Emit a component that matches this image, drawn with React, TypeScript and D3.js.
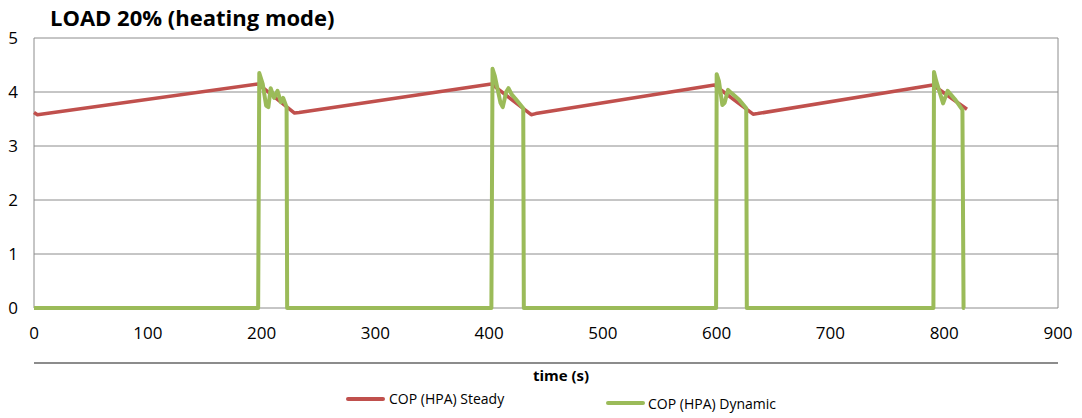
import React from "react";
import { scaleLinear, line } from "d3";

const title = "LOAD 20% (heating mode)";
const xTicks = [0, 100, 200, 300, 400, 500, 600, 700, 800, 900];
const yTicks = [0, 1, 2, 3, 4, 5];

// COP (HPA) Steady
const steadyT = [0, 3, 197, 229, 233, 402, 437, 441, 598, 632, 636, 790, 820];
const steadyV = [3.62, 3.58, 4.15, 3.61, 3.62, 4.15, 3.58, 3.6, 4.13, 3.59, 3.6, 4.13, 3.68];

// COP (HPA) Dynamic
const dynT = [
  0, 197, 198, 201, 204, 206, 208, 211, 214, 217, 219, 222, 222.5,
  402, 403, 405, 410, 412, 415, 417, 420, 423, 430, 430.5,
  599.5, 600, 602, 605, 607, 610, 613, 620, 626, 626.5,
  790.5, 791, 793, 799, 803, 810, 816, 817, 818,
];
const dynV = [
  0, 0, 4.35, 4.15, 3.75, 3.72, 4.07, 3.89, 4.02, 3.81, 3.89, 3.72, 0,
  0, 4.43, 4.3, 3.8, 3.72, 4.0, 4.07, 3.95, 3.88, 3.7, 0,
  0, 4.33, 4.2, 3.76, 3.8, 4.04, 3.98, 3.85, 3.7, 0,
  0, 4.37, 4.2, 3.79, 4.02, 3.85, 3.67, 0, 0,
];

const W = 1082;
const H = 418;
const font = "'Open Sans', sans-serif";

const App = () => {
  const x = scaleLinear().domain([0, 900]).range([34, 1058]);
  const y = scaleLinear().domain([0, 5]).range([308, 38]);

  const steadyPath = line<number>()
    .x((t) => x(t))
    .y((_, i) => y(steadyV[i]))(steadyT);
  const dynPath = line<number>()
    .x((t) => x(t))
    .y((_, i) => y(dynV[i]))(dynT);

  const [x0, x1] = x.range();

  return (
    <svg width={W} height={H} style={{ position: "absolute", left: 0, top: 0 }}>
      <rect width={W} height={H} fill="#fff" />
      <text x={50} y={26} fontFamily={font} fontWeight="bold" fontSize={22} fill="#000">
        {title}
      </text>

      {/* grid */}
      {yTicks.map((v) => (
        <g key={v}>
          <line x1={x0} x2={x1} y1={y(v)} y2={y(v)} stroke="#8c8c8c" strokeWidth={1} />
          <text x={13} y={y(v) + 6} textAnchor="middle" fontFamily={font} fontSize={17} fill="#000">
            {v}
          </text>
        </g>
      ))}
      <line x1={x0} x2={x0} y1={y(5)} y2={y(0)} stroke="#8c8c8c" />
      <line x1={x1} x2={x1} y1={y(5)} y2={y(0)} stroke="#8c8c8c" />

      {xTicks.map((t) => (
        <text key={t} x={x(t)} y={339} textAnchor="middle" fontFamily={font} fontSize={17} fill="#000">
          {t}
        </text>
      ))}

      <path d={steadyPath ?? ""} fill="none" stroke="#C0504D" strokeWidth={3.5} strokeLinejoin="round" />
      <path d={dynPath ?? ""} fill="none" stroke="#9BBB59" strokeWidth={4} strokeLinejoin="round" />

      <line x1={x0} x2={x1} y1={363} y2={363} stroke="#8c8c8c" strokeWidth={2} />
      <text x={561} y={381} textAnchor="middle" fontFamily={font} fontWeight="bold" fontSize={15} fill="#000">
        time (s)
      </text>

      {/* legend */}
      <line x1={348} x2={383} y1={399} y2={399} stroke="#C0504D" strokeWidth={4} strokeLinecap="round" />
      <text x={389} y={404} fontFamily={font} fontSize={14} fill="#000">
        COP (HPA) Steady
      </text>
      <line x1={608} x2={643} y1={403} y2={403} stroke="#9BBB59" strokeWidth={4} strokeLinecap="round" />
      <text x={648} y={409} fontFamily={font} fontSize={14} fill="#000">
        COP (HPA) Dynamic
      </text>
    </svg>
  );
};

export default App;
